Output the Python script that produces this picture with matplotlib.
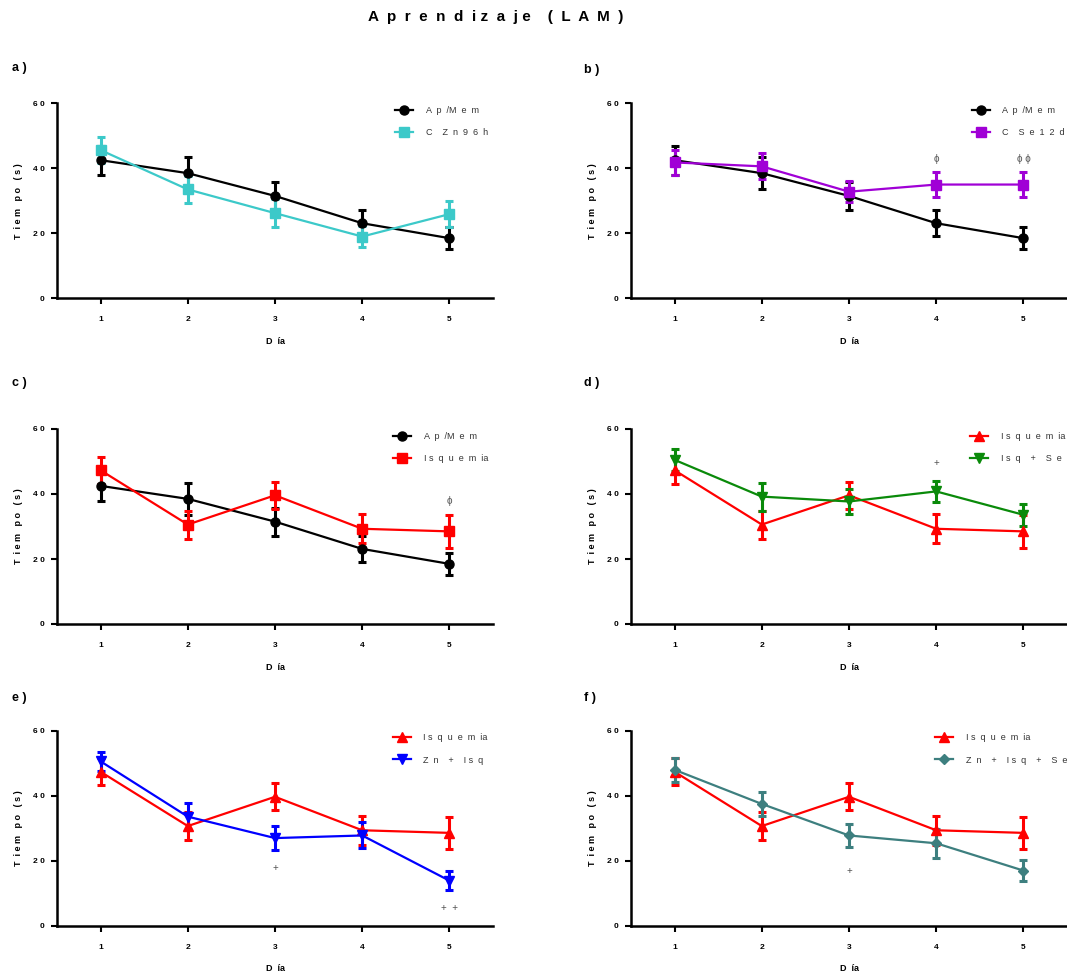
import matplotlib
matplotlib.use('Agg')
import matplotlib.pyplot as plt

plt.rcParams['font.family'] = ['Liberation Sans', 'DejaVu Sans']

# data (mean and SEM per day)
dias = [1, 2, 3, 4, 5]
ap_mem = [42.5, 38.5, 31.5, 23.1, 18.5]
ap_mem_err = [4.5, 5.0, 4.3, 4.0, 3.3]
c_zn96h = [45.6, 33.5, 26.2, 19.0, 25.9]
c_zn96h_err = [3.9, 4.2, 4.2, 3.3, 4.0]
c_se12d = [41.8, 40.6, 32.8, 35.0, 35.0]
c_se12d_err = [3.9, 4.0, 3.3, 3.8, 3.8]
isquemia = [47.3, 30.6, 39.6, 29.3, 28.5]
isquemia_err = [4.2, 4.3, 4.2, 4.4, 5.0]
isq_se = [50.5, 39.2, 37.7, 40.8, 33.6]
isq_se_err = [3.3, 4.3, 3.7, 3.3, 3.4]
zn_isq = [50.5, 33.5, 26.9, 27.7, 13.8]
zn_isq_err = [3.0, 4.1, 3.8, 4.0, 3.0]
zn_isq_se = [47.9, 37.4, 27.7, 25.3, 16.9]
zn_isq_se_err = [3.6, 3.8, 3.6, 4.4, 3.3]

yticks = [0, 20, 40, 60]
ytick_labels = ['0', '2 0', '4 0', '6 0']

# significance marks: (text, day, height)
marks_b = [('ϕ', 4, 43.0), ('ϕ ϕ', 5, 43.0)]
marks_c = [('ϕ', 5, 37.8)]
marks_d = [('+', 4, 49.5)]
marks_e = [('+', 3, 17.7), ('+  +', 5, 5.4)]
marks_f = [('+', 3, 16.9)]

# series styles
styles = {
    'ap': dict(label='A  p  /M  e  m', color='black', marker='o', ms=6.5),
    'zn96': dict(label='C    Z  n  9  6  h', color='#3CC9C9', marker='s', ms=6.5),
    'se12': dict(label='C    S  e  1  2  d', color='#A000D6', marker='s', ms=6.5),
    'isq_sq': dict(label='I s  q  u  e  m  ia', color='#FF0000', marker='s', ms=6.5),
    'isq_tri': dict(label='I s  q  u  e  m  ia', color='#FF0000', marker='^', ms=7),
    'isq_se': dict(label='I s  q    +    S  e', color='#0A8A0A', marker='v', ms=7),
    'zn_isq': dict(label='Z  n    +    I s  q', color='#0000FF', marker='v', ms=7),
    'zn_isq_se': dict(label='Z  n    +    I s  q    +    S  e', color='#3D7F7F', marker='D', ms=5),
}

panels = [
    ('a )', [(ap_mem, ap_mem_err, 'ap'), (c_zn96h, c_zn96h_err, 'zn96')], [], 0.775),
    ('b )', [(ap_mem, ap_mem_err, 'ap'), (c_se12d, c_se12d_err, 'se12')], marks_b, 0.781),
    ('c )', [(ap_mem, ap_mem_err, 'ap'), (isquemia, isquemia_err, 'isq_sq')], marks_c, 0.771),
    ('d )', [(isquemia, isquemia_err, 'isq_tri'), (isq_se, isq_se_err, 'isq_se')], marks_d, 0.778),
    ('e )', [(isquemia, isquemia_err, 'isq_tri'), (zn_isq, zn_isq_err, 'zn_isq')], marks_e, 0.770),
    ('f )', [(isquemia, isquemia_err, 'isq_tri'), (zn_isq_se, zn_isq_se_err, 'zn_isq_se')], marks_f, 0.697),
]

W, H = 1067, 973
fig = plt.figure(figsize=(W / 100, H / 100), dpi=100)

lefts = [57, 631]
bottoms = [298.3, 624, 925.5]
ax_w, ax_h = 436, 195
label_pos = [(12, 68), (584, 70), (12, 383), (584, 383), (12, 698), (584, 698)]

for i, (tag, series, marks, leg_x) in enumerate(panels):
    col, row = i % 2, i // 2
    ax = fig.add_axes([lefts[col] / W, 1 - bottoms[row] / H, ax_w / W, ax_h / H])
    handles, labels = [], []
    for vals, errs, key in series:
        st = styles[key]
        cont = ax.errorbar(dias, vals, yerr=errs, color=st['color'], marker=st['marker'],
                           ms=st['ms'], lw=1.6, elinewidth=2.2, capsize=3, capthick=2.2,
                           clip_on=False)
        handles.append(cont[0])
        labels.append(st['label'])
    for txt, d, yv in marks:
        ax.text(d, yv, txt, ha='center', va='center', fontsize=7, color='#555555')

    ax.set_xlim(0.5, 5.5)
    ax.set_ylim(0, 60)
    ax.set_xticks(dias)
    ax.set_xticklabels([str(d) for d in dias], fontsize=6, fontweight='bold')
    ax.set_yticks(yticks)
    ax.set_yticklabels(ytick_labels, fontsize=6, fontweight='bold')
    ax.tick_params(axis='x', length=4, width=1.5, pad=9)
    ax.tick_params(axis='y', length=4, width=1.5, pad=5)
    for s in ['top', 'right']:
        ax.spines[s].set_visible(False)
    for s in ['left', 'bottom']:
        ax.spines[s].set_linewidth(1.8)
    ax.set_xlabel('D  ía', fontsize=6.5, fontweight='bold', labelpad=10)
    ax.set_ylabel('T  i e m   p o   ( s )', fontsize=6.5, fontweight='bold', labelpad=7)

    leg = ax.legend(handles, labels, loc='upper left', bbox_to_anchor=(leg_x, 0.985),
                    frameon=False, fontsize=6.5, handlelength=2.0, handletextpad=1.4,
                    labelspacing=1.45, borderpad=0, borderaxespad=0)
    for t in leg.get_texts():
        t.set_color('#333333')

    lx, ly = label_pos[i]
    fig.text(lx / W, 1 - ly / H, tag, fontsize=9, fontweight='bold', va='center')

fig.text(496 / W, 1 - 17 / H, 'A  p  r  e  n  d  i z  a  j e    (  L  A  M  )', fontsize=11,
         fontweight='bold', ha='center', va='center')

fig.savefig('out.png', dpi=100)
